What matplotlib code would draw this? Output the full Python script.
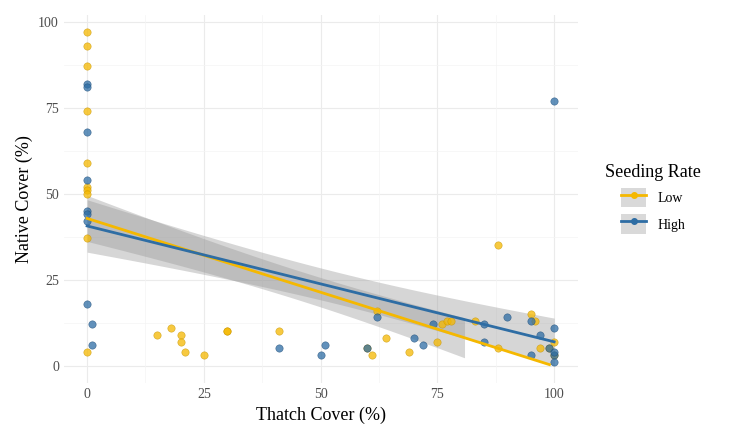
import numpy as np
import matplotlib
matplotlib.use("Agg")
import matplotlib.pyplot as plt
from matplotlib.lines import Line2D
from matplotlib.patches import Patch

low_x = [0]*10 + [15, 18, 20, 20, 21, 25, 30, 30, 41, 60, 61, 62, 64, 69, 75, 76, 77, 78,
                  83, 88, 88, 95, 96, 97, 99, 100, 100]
low_y = [97, 93, 87, 74, 59, 52, 51, 50, 37, 4, 9, 11, 9, 7, 4, 3, 10, 10, 10, 5, 3, 16, 8, 4,
         7, 12, 13, 13, 13, 35, 5, 15, 13, 5, 5, 7, 3]
high_x = [0]*8 + [1, 1, 41, 50, 51, 60, 62, 70, 72, 74, 85, 85, 90, 95, 95, 97, 99,
                  100, 100, 100, 100, 100]
high_y = [82, 81, 68, 54, 45, 44, 42, 18, 12, 6, 5, 3, 6, 5, 14, 8, 6, 12, 12, 7, 14, 3, 13,
          9, 5, 77, 11, 3, 1, 4]

LOW_C, HIGH_C = "#F5B800", "#2E6DA4"


def fit_band(x, y, xmax):
    x = np.asarray(x, float); y = np.asarray(y, float)
    n = len(x)
    b, a = np.polyfit(x, y, 1)
    xs = np.linspace(x.min(), xmax, 100)
    res = y - (a + b * x)
    s = np.sqrt((res ** 2).sum() / (n - 2))
    se = s * np.sqrt(1 / n + (xs - x.mean()) ** 2 / ((x - x.mean()) ** 2).sum())
    fit = a + b * xs
    return xs, fit, fit - 1.15 * se, fit + 1.15 * se


fig, ax = plt.subplots(figsize=(7.5, 4.37), dpi=100)
fig.subplots_adjust(left=0.085, right=0.77, top=0.966, bottom=0.124)
ax.set_facecolor("white")
for v in [0, 25, 50, 75, 100]:
    ax.axvline(v, color="#EBEBEB", lw=0.8, zorder=0)
    ax.axhline(v, color="#EBEBEB", lw=0.8, zorder=0)
for v in [12.5, 37.5, 62.5, 87.5]:
    ax.axvline(v, color="#F4F4F4", lw=0.5, zorder=0)
    ax.axhline(v, color="#F4F4F4", lw=0.5, zorder=0)

ax.scatter(low_x, low_y, s=28, color=LOW_C, alpha=0.75, edgecolor="#C89500", lw=0.4, zorder=3)
ax.scatter(high_x, high_y, s=28, color=HIGH_C, alpha=0.75, edgecolor="#1F4E7A", lw=0.4, zorder=3)

xs, f, lo, hi = fit_band(low_x, low_y, max(low_x))
m = xs <= 81
ax.fill_between(xs[m], lo[m], hi[m], color="#999999", alpha=0.4, lw=0, zorder=2)
ax.plot(xs[f >= 0], f[f >= 0], color=LOW_C, lw=2, zorder=4)
xs, f, lo, hi = fit_band(high_x, high_y, max(high_x))
ax.fill_between(xs, lo, hi, color="#999999", alpha=0.4, lw=0, zorder=2)
ax.plot(xs, f, color=HIGH_C, lw=2, zorder=4)

ax.set_xlim(-5, 105)
ax.set_ylim(-5, 102)
ax.set_xticks([0, 25, 50, 75, 100])
ax.set_yticks([0, 25, 50, 75, 100])
for s in ax.spines.values():
    s.set_visible(False)
ax.tick_params(length=0, labelsize=10, colors="#4D4D4D")
for t in ax.get_xticklabels() + ax.get_yticklabels():
    t.set_family("Liberation Serif")
ax.set_xlabel("Thatch Cover (%)", family="Liberation Serif", fontsize=13)
ax.set_ylabel("Native Cover (%)", family="Liberation Serif", fontsize=13)

bg = Patch(facecolor="#D9D9D9", edgecolor="none")
handles = [(bg, Line2D([], [], color=LOW_C, lw=2, marker="o", ms=4)),
           (bg, Line2D([], [], color=HIGH_C, lw=2, marker="o", ms=4))]
leg = ax.legend(handles, ["Low", "High"], title="Seeding Rate", loc="center left",
                bbox_to_anchor=(1.03, 0.5), frameon=False,
                prop={"family": "Liberation Serif", "size": 10},
                handlelength=1.8, handleheight=1.8)
leg.get_title().set_family("Liberation Serif")
leg.get_title().set_fontsize(13)
fig.savefig("out.png", dpi=100)
